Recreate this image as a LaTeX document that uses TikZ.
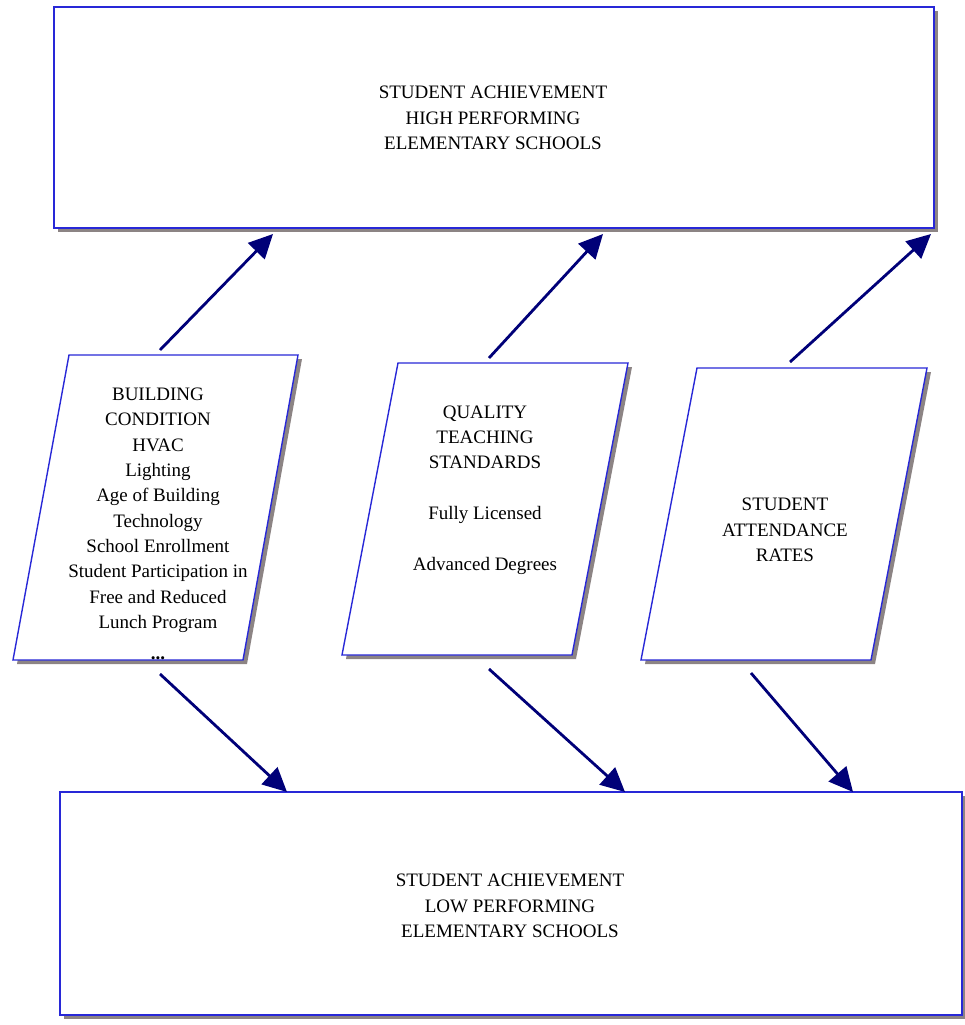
\documentclass[tikz,border=0pt]{standalone}
\usepackage{fontspec}
\setmainfont{Liberation Serif}
\usetikzlibrary{arrows.meta}
\definecolor{boxblue}{RGB}{40,40,215}
\definecolor{shadowgray}{RGB}{140,132,132}
\definecolor{arrownavy}{RGB}{0,0,120}
\begin{document}
\begin{tikzpicture}[x=1pt,y=-1pt,
  boxline/.style={draw=boxblue,line width=1.4pt,fill=white},
  shadowfill/.style={fill=shadowgray,draw=none},
  txt/.style={align=center,font=\fontsize{19}{25.3}\selectfont,inner sep=0pt},
  flow/.style={draw=arrownavy,line width=2.8pt,-{Triangle[length=24pt,width=23pt]}}]
\useasboundingbox (0,0) rectangle (964,1025);
% top box
\fill[shadowfill] (58,11) rectangle (938,232);
\draw[boxline] (54,7) rectangle (934,228);
\node[txt] (high) at (493,118) {STUDENT ACHIEVEMENT\\HIGH PERFORMING\\ELEMENTARY SCHOOLS};
% bottom box
\fill[shadowfill] (64,796) rectangle (966,1019);
\draw[boxline] (60,792) rectangle (962,1015);
\node[txt] (low) at (510,906) {STUDENT ACHIEVEMENT\\LOW PERFORMING\\ELEMENTARY SCHOOLS};
% parallelogram 1
\fill[shadowfill] (73,359) -- (302,359) -- (247,664) -- (17,664) -- cycle;
\draw[boxline] (69,355) -- (298,355) -- (243,660) -- (13,660) -- cycle;
\node[txt] (build) at (158,524) {BUILDING\\CONDITION\\HVAC\\Lighting\\Age of Building\\Technology\\School Enrollment\\Student Participation in\\Free and Reduced\\Lunch Program\\[6pt]\textbf{...}};
% parallelogram 2
\fill[shadowfill] (402,367) -- (632,367) -- (576,659) -- (346,659) -- cycle;
\draw[boxline] (398,363) -- (628,363) -- (572,655) -- (342,655) -- cycle;
\node[txt] (teach) at (485,490) {QUALITY\\TEACHING\\STANDARDS\\[25.3pt]Fully Licensed\\[25.3pt]Advanced Degrees};
% parallelogram 3
\fill[shadowfill] (701,372) -- (931,372) -- (875,664) -- (645,664) -- cycle;
\draw[boxline] (697,368) -- (927,368) -- (871,660) -- (641,660) -- cycle;
\node[txt] (attend) at (785,530) {STUDENT\\ATTENDANCE\\RATES};
% connector end points
\coordinate (b1) at (160,350); \coordinate (h1) at (273,234);
\coordinate (b2) at (489,358); \coordinate (h2) at (603,234);
\coordinate (b3) at (790,362); \coordinate (h3) at (931,234);
\coordinate (d1) at (160,674); \coordinate (l1) at (287,792);
\coordinate (d2) at (489,669); \coordinate (l2) at (625,792);
\coordinate (d3) at (751,673); \coordinate (l3) at (853,792);
\draw[flow] (b1) -- (h1);
\draw[flow] (b2) -- (h2);
\draw[flow] (b3) -- (h3);
\draw[flow] (d1) -- (l1);
\draw[flow] (d2) -- (l2);
\draw[flow] (d3) -- (l3);
\end{tikzpicture}
\end{document}
